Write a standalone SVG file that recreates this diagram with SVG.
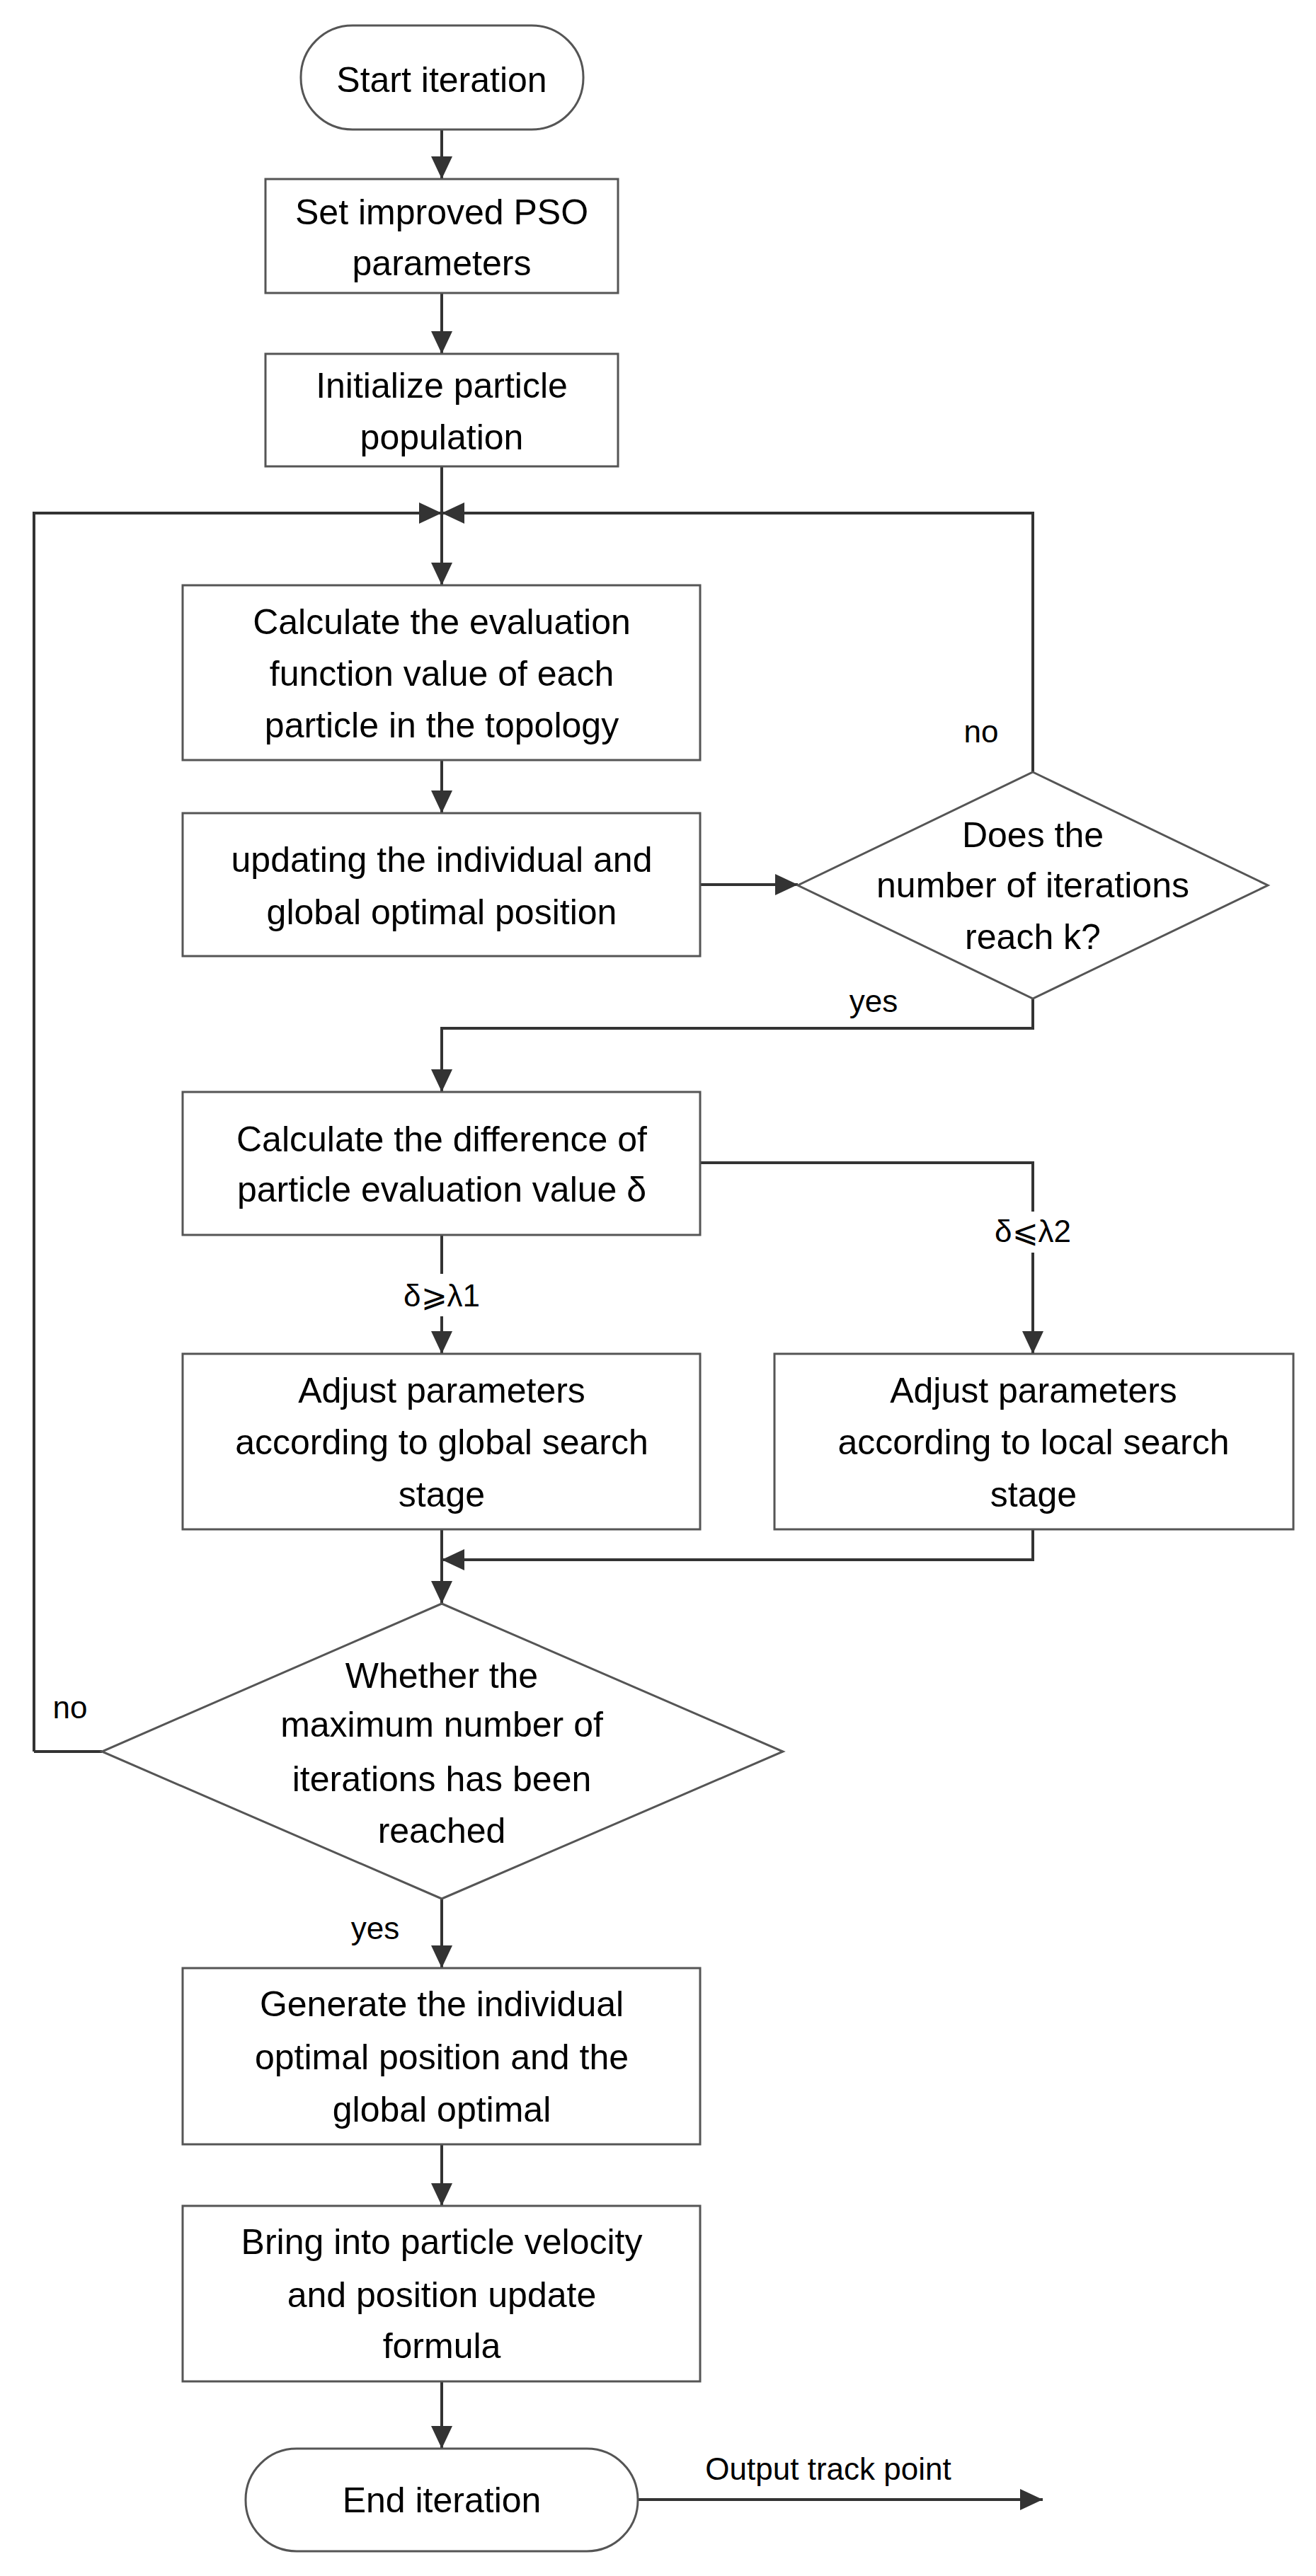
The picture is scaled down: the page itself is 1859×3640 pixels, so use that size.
<svg xmlns="http://www.w3.org/2000/svg" width="1859" height="3640" viewBox="0 0 1859 3640">
<style>
.n{fill:#fff;stroke:#555;stroke-width:3}
.t{font-family:"Liberation Sans",Arial,sans-serif;font-size:50px;fill:#000;text-anchor:middle}
.l{font-family:"Liberation Sans",Arial,sans-serif;font-size:44px;fill:#000;text-anchor:middle}
.c{fill:none;stroke:#333;stroke-width:4}
</style>
<defs>
<marker id="a" viewBox="0 0 32 30" refX="32" refY="15" markerWidth="32" markerHeight="30" markerUnits="userSpaceOnUse" orient="auto">
<path d="M0,0 L32,15 L0,30 z" fill="#333"/>
</marker>
</defs>
<rect width="1859" height="3640" fill="#fff"/>
<g id="connectors">
<path class="c" d="M624,183 V253" marker-end="url(#a)"/>
<path class="c" d="M624,414 V500" marker-end="url(#a)"/>
<path class="c" d="M624,659 V827" marker-end="url(#a)"/>
<path class="c" d="M48,2475 V725 H624" marker-end="url(#a)"/>
<path class="c" d="M1459,1091 V725 H624" marker-end="url(#a)"/>
<path class="c" d="M624,1074 V1149" marker-end="url(#a)"/>
<path class="c" d="M989,1250 H1127" marker-end="url(#a)"/>
<path class="c" d="M1459,1411 V1453 H624 V1543" marker-end="url(#a)"/>
<path class="c" d="M989,1643 H1459 V1712"/>
<path class="c" d="M1459,1770 V1913" marker-end="url(#a)"/>
<path class="c" d="M624,1745 V1800"/>
<path class="c" d="M624,1860 V1913" marker-end="url(#a)"/>
<path class="c" d="M624,2161 V2266" marker-end="url(#a)"/>
<path class="c" d="M1459,2161 V2204 H624" marker-end="url(#a)"/>
<path class="c" d="M144,2475 H48"/>
<path class="c" d="M624,2683 V2781" marker-end="url(#a)"/>
<path class="c" d="M624,3030 V3117" marker-end="url(#a)"/>
<path class="c" d="M624,3365 V3460" marker-end="url(#a)"/>
<path class="c" d="M901,3532 H1473" marker-end="url(#a)"/>
<text class="l" x="1386" y="1049">no</text>
<text class="l" x="1234" y="1430">yes</text>
<text class="l" x="1459" y="1755">δ⩽λ2</text>
<text class="l" x="624" y="1846">δ⩾λ1</text>
<text class="l" x="99" y="2428">no</text>
<text class="l" x="530" y="2740">yes</text>
<text class="l" x="1170" y="3504">Output track point</text>
</g>
<g id="start"><rect class="n" x="425" y="36" width="399" height="147" rx="73"/><text class="t" x="624" y="130">Start iteration</text></g>
<g id="setparams"><rect class="n" x="375" y="253" width="498" height="161"/><text class="t" x="624" y="317">Set improved PSO</text><text class="t" x="624" y="389">parameters</text></g>
<g id="init"><rect class="n" x="375" y="500" width="498" height="159"/><text class="t" x="624" y="562">Initialize particle</text><text class="t" x="624" y="635">population</text></g>
<g id="calc"><rect class="n" x="258" y="827" width="731" height="247"/><text class="t" x="624" y="896">Calculate the evaluation</text><text class="t" x="624" y="969">function value of each</text><text class="t" x="624" y="1042">particle in the topology</text></g>
<g id="update"><rect class="n" x="258" y="1149" width="731" height="202"/><text class="t" x="624" y="1232">updating the individual and</text><text class="t" x="624" y="1306">global optimal position</text></g>
<g id="dec1"><polygon class="n" points="1459,1091 1791,1251 1459,1411 1127,1251"/><text class="t" x="1459" y="1197">Does the</text><text class="t" x="1459" y="1268">number of iterations</text><text class="t" x="1459" y="1341">reach k?</text></g>
<g id="diff"><rect class="n" x="258" y="1543" width="731" height="202"/><text class="t" x="624" y="1627">Calculate the difference of</text><text class="t" x="624" y="1698">particle evaluation value δ</text></g>
<g id="global"><rect class="n" x="258" y="1913" width="731" height="248"/><text class="t" x="624" y="1982">Adjust parameters</text><text class="t" x="624" y="2055">according to global search</text><text class="t" x="624" y="2129">stage</text></g>
<g id="local"><rect class="n" x="1094" y="1913" width="733" height="248"/><text class="t" x="1460" y="1982">Adjust parameters</text><text class="t" x="1460" y="2055">according to local search</text><text class="t" x="1460" y="2129">stage</text></g>
<g id="dec2"><polygon class="n" points="624,2266 1106,2475 624,2683 144,2475"/><text class="t" x="624" y="2385">Whether the</text><text class="t" x="624" y="2454">maximum number of</text><text class="t" x="624" y="2531">iterations has been</text><text class="t" x="624" y="2604">reached</text></g>
<g id="generate"><rect class="n" x="258" y="2781" width="731" height="249"/><text class="t" x="624" y="2849">Generate the individual</text><text class="t" x="624" y="2924">optimal position and the</text><text class="t" x="624" y="2998">global optimal</text></g>
<g id="bring"><rect class="n" x="258" y="3117" width="731" height="248"/><text class="t" x="624" y="3185">Bring into particle velocity</text><text class="t" x="624" y="3260">and position update</text><text class="t" x="624" y="3332">formula</text></g>
<g id="end"><rect class="n" x="347" y="3460" width="554" height="145" rx="72"/><text class="t" x="624" y="3550">End iteration</text></g>
</svg>
